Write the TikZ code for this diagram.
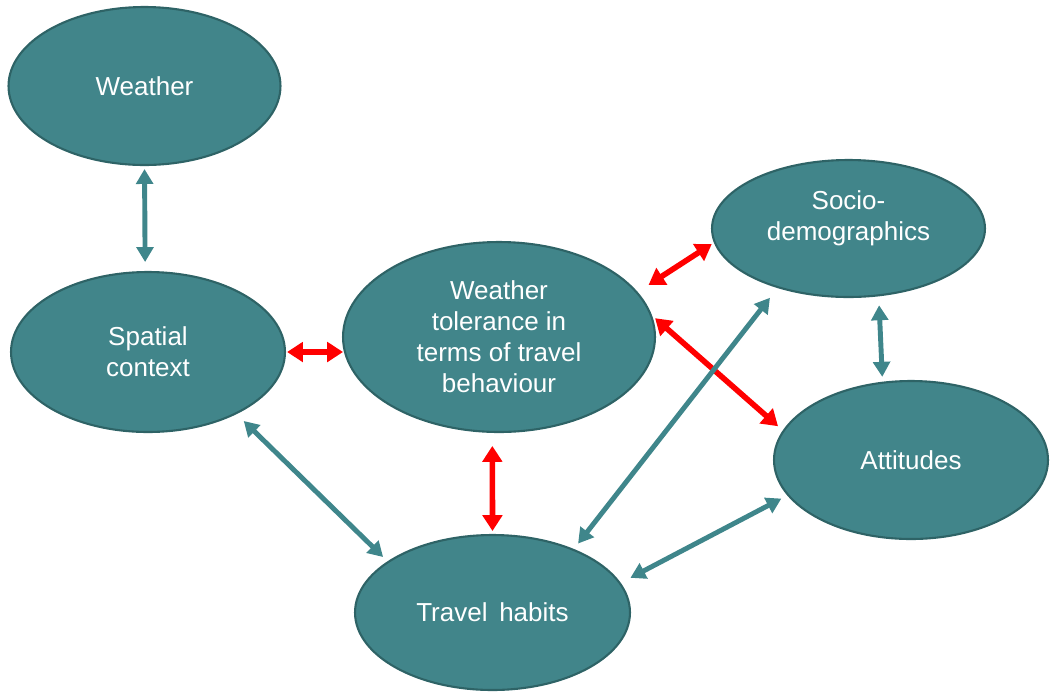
\documentclass[tikz,border=0pt]{standalone}
\usepackage{fontspec}
\setmainfont{Liberation Sans}
\usetikzlibrary{arrows.meta,shapes.geometric}
\definecolor{tealfill}{HTML}{41858A}
\definecolor{tealedge}{HTML}{2E6366}
\definecolor{tealarrow}{HTML}{3F868B}
\definecolor{linkred}{HTML}{FF0000}
\begin{document}
\begin{tikzpicture}[x=0.02cm,y=-0.02cm,
  blob/.style={ellipse, draw=tealedge, line width=1.2pt, fill=tealfill,
    text=white, inner sep=0pt, align=center,
    font=\fontsize{14.8}{17.6}\selectfont},
  lbl/.style={text=white, inner sep=0pt, align=center,
    font=\fontsize{14.8}{17.6}\selectfont},
  tip/.tip={Triangle[length=8.5pt,width=9.5pt]},
  redtip/.tip={Triangle[length=9pt,width=11pt]},
  link/.style={line width=2.8pt, draw=tealarrow, tip-tip},
  redlink/.style={line width=3.2pt, draw=linkred, redtip-redtip}
]
\useasboundingbox (0,0) rectangle (1051,691);

% factors
\node[blob, minimum width=5.44cm, minimum height=3.16cm] (w)  at (144.5,86)  {Weather};
\node[blob, minimum width=5.48cm, minimum height=3.20cm] (s)  at (148,352)   {Spatial\\context};
\node[blob, minimum width=6.24cm, minimum height=3.80cm] (t)  at (499,337)   {Weather\\tolerance in\\terms of travel\\behaviour};
\node[blob, minimum width=5.46cm, minimum height=2.74cm] (sd) at (848.5,228.5) {};
\node[lbl] (sdtext) at (848.5,218) {Socio-\\demographics};
\node[blob, minimum width=5.48cm, minimum height=3.16cm] (a)  at (911,460)   {Attitudes};
\node[blob, minimum width=5.50cm, minimum height=3.10cm] (th) at (492.5,612.5) {Travel\hspace{0.45em}habits};

% links to the central weather tolerance
\draw[redlink, shorten <=0.6pt, shorten >=-0.6pt] (s.east) -- (t.west |- s.east);
\draw[redlink, shorten <=7.4pt, shorten >=1.7pt] (t.266.4) -- (th.90);
\draw[redlink, shorten <=7.4pt, shorten >=1.4pt] (t.18.56) -- (sd.186);
\draw[redlink, shorten <=2.3pt, shorten >=3.6pt] (t.8.66) -- (a.167.7);

% other links
\draw[link, shorten <=1.7pt, shorten >=5.1pt] (w.south) -- (s.92);
\draw[link, shorten <=5.6pt, shorten >=3.5pt] (s.325.3) -- (th.154.9);
\draw[link, shorten <=3.9pt, shorten >=7.0pt] (th.38.8) -- (sd.220.8);
\draw[link, shorten <=5.1pt, shorten >=2.8pt] (sd.294.4) -- (a.110.6);
\draw[link, shorten <=6.2pt, shorten >=3.8pt] (th.13.35) -- (a.196.4);
\end{tikzpicture}
\end{document}
